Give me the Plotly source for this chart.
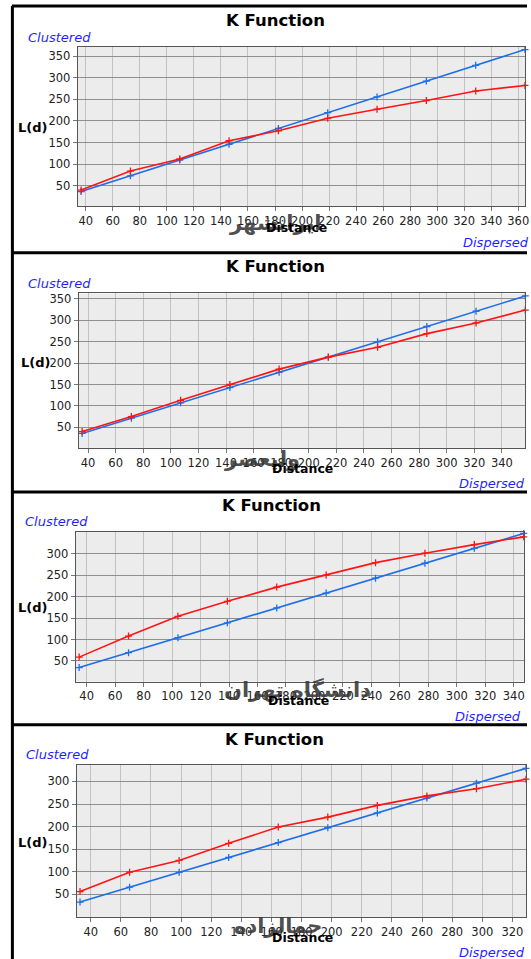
import plotly.graph_objects as go

W, H = 531, 959

# ---- data ----
DIST_1 = [36.5, 73, 109.5, 146, 182.5, 219, 255.5, 292, 328.5, 365]
EXP_1 = [36.5, 73, 109.5, 146, 182.5, 219, 255.5, 292, 328.5, 365]
OBS_1 = [40, 84, 112, 154, 177, 206, 227, 247, 269, 282]

DIST_2 = [35.7, 71.4, 107.1, 142.8, 178.5, 214.2, 249.9, 285.6, 321.3, 357]
EXP_2 = [35.7, 71.4, 107.1, 142.8, 178.5, 214.2, 249.9, 285.6, 321.3, 357]
OBS_2 = [40, 75, 113, 150, 186, 214, 237, 269, 294, 324]

DIST_3 = [34.7, 69.4, 104.1, 138.8, 173.5, 208.2, 242.9, 277.6, 312.3, 347]
EXP_3 = [34.7, 69.4, 104.1, 138.8, 173.5, 208.2, 242.9, 277.6, 312.3, 347]
OBS_3 = [59, 108, 154, 189, 222, 250, 279, 301, 321, 339]

DIST_4 = [32.9, 65.8, 98.7, 131.6, 164.5, 197.4, 230.3, 263.2, 296.1, 329]
EXP_4 = [32.9, 65.8, 98.7, 131.6, 164.5, 197.4, 230.3, 263.2, 296.1, 329]
OBS_4 = [56, 99, 125, 163, 199, 221, 247, 268, 284, 305]

X_TICKS_1 = [40, 60, 80, 100, 120, 140, 160, 180, 200, 220, 240, 260, 280, 300, 320, 340, 360]
X_TICKS_2 = [40, 60, 80, 100, 120, 140, 160, 180, 200, 220, 240, 260, 280, 300, 320, 340]
X_TICKS_3 = [40, 60, 80, 100, 120, 140, 160, 180, 200, 220, 240, 260, 280, 300, 320, 340]
X_TICKS_4 = [40, 60, 80, 100, 120, 140, 160, 180, 200, 220, 240, 260, 280, 300, 320]
Y_TICKS_1 = [50, 100, 150, 200, 250, 300, 350]
Y_TICKS_2 = [50, 100, 150, 200, 250, 300, 350]
Y_TICKS_3 = [50, 100, 150, 200, 250, 300]
Y_TICKS_4 = [50, 100, 150, 200, 250, 300]

PLACE_NAMES = ["ایرانشهر", "ولیعصر", "دانشگاه تهران", "جمالزاده"]

TITLE = "K Function"
Y_LABEL = "L(d)"
X_LABEL = "Distance"

# ---- layout (pixel geometry per panel) ----
panels = [
    dict(d=DIST_1, e=EXP_1, o=OBS_1, xt=X_TICKS_1, yt=Y_TICKS_1,
         px=(78.3, 529), py=(46, 205.7), xr=[34, 365], yr=[2, 371],
         title=(277.5, 20), clus=(26, 37), disp=(465, 242), ld=(33, 127),
         dist=(298.5, 227), name=(278, 222)),
    dict(d=DIST_2, e=EXP_2, o=OBS_2, xt=X_TICKS_2, yt=Y_TICKS_2,
         px=(79.3, 529.3), py=(292.7, 447.3), xr=[33.2, 357], yr=[2, 363],
         title=(278, 266), clus=(26.7, 282.3), disp=(460, 483.3), ld=(36, 362),
         dist=(305, 468.3), name=(264, 458)),
    dict(d=DIST_3, e=EXP_3, o=OBS_3, xt=X_TICKS_3, yt=Y_TICKS_3,
         px=(76.3, 527.7), py=(531.7, 681.3), xr=[32.3, 347], yr=[2, 350],
         title=(274, 505), clus=(23.3, 521), disp=(456.7, 716.7), ld=(32.5, 607),
         dist=(301, 700.7), name=(300, 689)),
    dict(d=DIST_4, e=EXP_4, o=OBS_4, xt=X_TICKS_4, yt=Y_TICKS_4,
         px=(77.3, 530), py=(765, 917.3), xr=[30.7, 329], yr=[-1, 336],
         title=(277, 739.3), clus=(24.3, 754), disp=(460, 952.7), ld=(33, 842),
         dist=(304.5, 937.3), name=(280, 926)),
]

BLUE = "#1e6ee8"
RED = "#ff1414"
TXT_BLUE = "#1f1fff"


def fx(px):
    return px / W


def fy(py):
    return 1 - py / H


fig = go.Figure()
annotations = []
shapes = []


def ann(text, pos, anchor, size, color, family="DejaVu Sans"):
    return dict(text=text, x=fx(pos[0]), y=fy(pos[1]), xref="paper", yref="paper",
                xanchor=anchor, yanchor="middle", showarrow=False,
                font=dict(family=family, size=size, color=color))


for i, p in enumerate(panels):
    n = i + 1
    xa = "x" if n == 1 else f"x{n}"
    ya = "y" if n == 1 else f"y{n}"
    for vals, col in ((p["e"], BLUE), (p["o"], RED)):
        fig.add_trace(go.Scatter(
            x=p["d"], y=vals, mode="lines+markers", xaxis=xa, yaxis=ya,
            line=dict(color=col, width=1.6),
            marker=dict(symbol="cross-thin", size=5, line=dict(width=1.3, color=col)),
            showlegend=False, hoverinfo="skip", cliponaxis=False))

    common = dict(showline=True, mirror=True, linecolor="#555555", linewidth=1,
                  ticks="outside", ticklen=4, tickcolor="#777777",
                  tickfont=dict(family="DejaVu Sans", size=11.5, color="#222222"),
                  zeroline=False, fixedrange=True, ticklabeloverflow="allow")
    fig.layout[f"xaxis{'' if n == 1 else n}"] = dict(
        domain=[fx(p["px"][0]), fx(p["px"][1])], anchor=ya, range=p["xr"],
        tickmode="array", tickvals=p["xt"], showgrid=True, gridcolor="#c2c2c2",
        gridwidth=1.4, **common)
    fig.layout[f"yaxis{'' if n == 1 else n}"] = dict(
        domain=[fy(p["py"][1]), fy(p["py"][0])], anchor=xa, range=p["yr"],
        tickmode="array", tickvals=p["yt"], showgrid=True, gridcolor="#8f8f8f",
        gridwidth=1, **common)

    annotations += [
        ann(f"<b>{TITLE}</b>", p["title"], "center", 16.5, "#000000"),
        ann("<i>Clustered</i>", p["clus"], "left", 13, TXT_BLUE),
        ann("<i>Dispersed</i>", p["disp"], "left", 13, TXT_BLUE),
        ann(f"<b>{Y_LABEL}</b>", p["ld"], "center", 13, "#000000"),
        ann(f"<b>{PLACE_NAMES[i]}</b>", p["name"], "center", 21, "rgba(55,55,55,0.9)"),
        ann(f"<b>{X_LABEL}</b>", p["dist"], "center", 12.5, "#000000"),
    ]

# panel frames (thick black borders)
for yb in (5, 252, 491.5, 724.5):
    shapes.append(dict(type="line", xref="paper", yref="paper", x0=fx(12), x1=1.0,
                       y0=fy(yb), y1=fy(yb), line=dict(color="#000000", width=3)))
shapes.append(dict(type="line", xref="paper", yref="paper", x0=fx(12.5), x1=fx(12.5),
                   y0=fy(5), y1=0, line=dict(color="#000000", width=3)))

fig.update_layout(
    width=W, height=H, margin=dict(l=0, r=0, t=0, b=0),
    paper_bgcolor="#ffffff", plot_bgcolor="#ececec",
    annotations=annotations, shapes=shapes, showlegend=False,
)

fig.write_html("out.html", config=dict(displayModeBar=False),
               post_script="document.body.style.margin='0px';document.body.style.padding='0px';")
